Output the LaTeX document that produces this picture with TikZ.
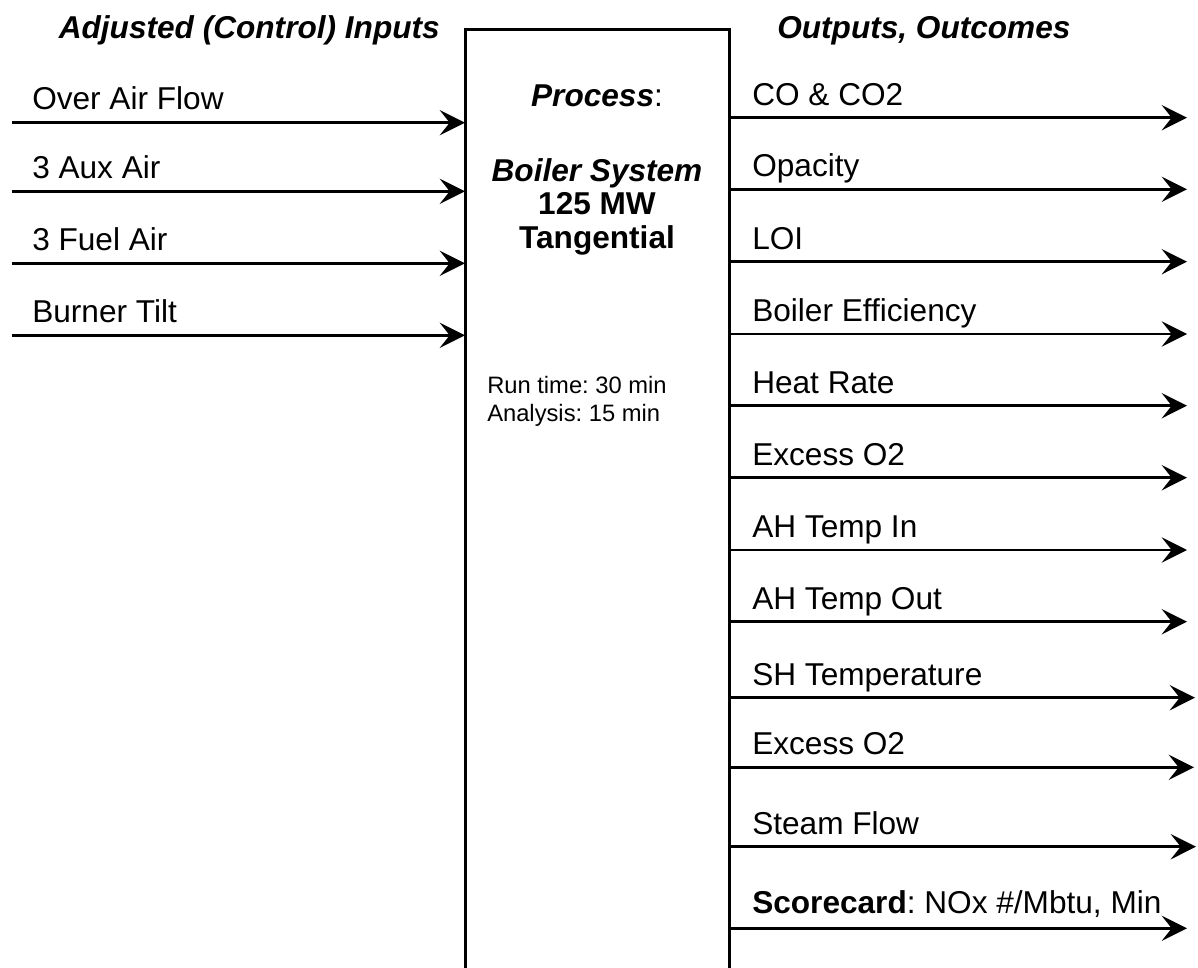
\documentclass[tikz,border=0pt]{standalone}
\usepackage{fontspec}
\setmainfont{Liberation Sans}
\usetikzlibrary{arrows.meta}
\frenchspacing
\begin{document}
\begin{tikzpicture}[x=0.75pt,y=-0.75pt,
  lbl/.style={font=\fontsize{23.7pt}{28pt}\selectfont, inner sep=0pt, anchor=base west},
  ttl/.style={font=\fontsize{23.7pt}{28pt}\selectfont\bfseries\itshape, inner sep=0pt},
  ctr/.style={font=\fontsize{23.7pt}{28pt}\selectfont\bfseries, inner sep=0pt, anchor=base},
  small/.style={font=\fontsize{17.8pt}{21pt}\selectfont, inner sep=0pt, anchor=base west},
  arr/.style={line width=1.9pt, -{Stealth[length=19pt,width=19pt,inset=7.5pt]}},
  procbox/.style={draw, line width=2.25pt, inner sep=0pt, outer sep=0pt,
    minimum width=198pt, minimum height=728pt, anchor=north west}]
\useasboundingbox (0,0) rectangle (1198,967);
\clip (0,0) rectangle (1198,967);
% titles
\node[ttl, anchor=base east] (tin) at (440,38) {Adjusted (Control) Inputs};
\node[ttl, anchor=base west] (tout) at (777,38) {Outputs, Outcomes};
% process box
\node[procbox] (proc) at (465,29) {};
\node[ctr] (p1) at (597,106) {\textit{Process}\mdseries:};
\node[ctr] (p2) at (597,181) {\textit{Boiler System}};
\node[ctr] (p3) at (597,214) {125 MW};
\node[ctr] (p4) at (597,248) {Tangential};
\node[small] (rt) at (487,393) {Run time: 30 min};
\node[small] (an) at (487,421) {Analysis: 15 min};
% inputs
\foreach \n/\y/\t in {1/122.7/Over Air Flow, 2/191.3/3 Aux Air, 3/263.3/3 Fuel Air, 4/335.3/Burner Tilt}{
  \coordinate (i\n) at (12,\y);
  \node[lbl] (li\n) at (32,\y-13.3) {\t};
  \draw[arr] (i\n) -- (i\n -| proc.west);
}
% outputs
\foreach \n/\y/\xe/\t in {1/117.7/1187/CO \& CO2, 2/189.3/1187/Opacity, 3/261.7/1187/LOI,
  4/334/1187/Boiler Efficiency, 5/405.7/1187/Heat Rate, 6/477.7/1187/Excess O2,
  7/550/1187/AH Temp In, 8/621.7/1187/AH Temp Out, 9/697.7/1195/SH Temperature,
  10/767.3/1194/Excess O2, 11/846.7/1196/Steam Flow}{
  \coordinate (o\n) at (\xe,\y);
  \node[lbl] (lo\n) at (752,\y-12.6) {\t};
  \draw[arr] (o\n -| proc.east) -- (o\n);
}
\coordinate (o12) at (1187,928.3);
\node[lbl] (lo12) at (752,913) {\textbf{Scorecard}: NOx \#/Mbtu, Min};
\draw[arr] (o12 -| proc.east) -- (o12);
\end{tikzpicture}
\end{document}
